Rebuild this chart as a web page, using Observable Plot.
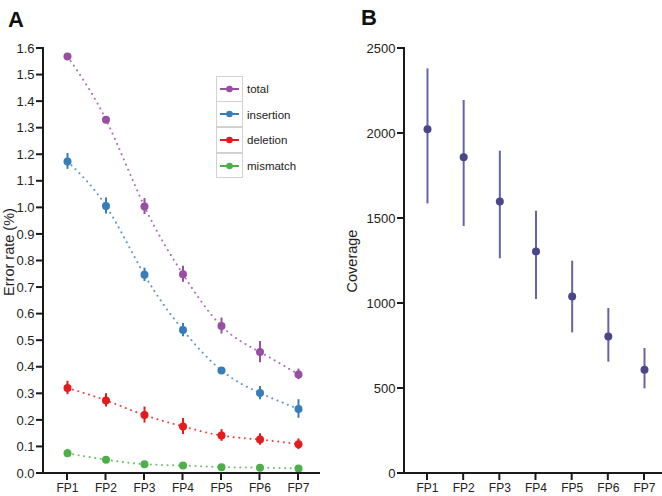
<!DOCTYPE html>
<html>
<head>
<meta charset="utf-8">
<script src="https://cdn.jsdelivr.net/npm/d3@7"></script>
<script src="https://cdn.jsdelivr.net/npm/@observablehq/plot@0.6"></script>
<style>
  html, body { margin: 0; padding: 0; background: #fff; }
  #wrap { position: relative; width: 662px; height: 496px; overflow: hidden; background: #fff; font-family: "Liberation Sans", Arial, sans-serif; color: #222; }
  .panel { position: absolute; top: 0; }
  .panel svg { overflow: visible; }
  .letter { position: absolute; font-weight: bold; font-size: 22px; font-family: "Liberation Sans", Arial, sans-serif; color: #111; }
  .ylab { position: absolute; font-size: 14.5px; white-space: nowrap; transform: translate(-50%, -50%) rotate(-90deg); color: #222; }
  #legend { position: absolute; left: 216px; top: 76px; }
  .lrow { display: flex; align-items: center; height: 25.75px; }
  .lsw { width: 25px; height: 23.75px; border: 1.5px solid #d2d2d2; box-sizing: content-box; margin-top: -1.5px; }
  .lrow:first-child .lsw { margin-top: 0; }
  .ltxt { font-size: 11.5px; margin-left: 4px; color: #222; }
</style>
</head>
<body>
<div id="wrap">
  <div class="letter" style="left:8px; top:7px;">A</div>
  <div class="letter" style="left:361px; top:5px;">B</div>
  <div class="ylab" style="left:9px; top:252px;">Error rate (%)</div>
  <div class="ylab" style="left:352px; top:261px;">Coverage</div>
  <div class="panel" id="left" style="left:0px;"></div>
  <div class="panel" id="right" style="left:331px;"></div>
  <div id="legend"></div>
</div>
<script>
// ---- data ----
const samples = ["FP1", "FP2", "FP3", "FP4", "FP5", "FP6", "FP7"];
const seriesNames = ["total", "insertion", "deletion", "mismatch"];
const seriesColors = ["#984ea3", "#377eb8", "#e41a1c", "#4daf4a"];

const totalRate = [1.570, 1.332, 1.005, 0.750, 0.555, 0.457, 0.373];
const totalErr  = [0.010, 0.012, 0.030, 0.030, 0.030, 0.040, 0.020];
const insertionRate = [1.175, 1.007, 0.748, 0.540, 0.388, 0.303, 0.243];
const insertionErr  = [0.030, 0.030, 0.025, 0.025, 0.006, 0.025, 0.035];
const deletionRate = [0.322, 0.275, 0.220, 0.177, 0.143, 0.128, 0.110];
const deletionErr  = [0.025, 0.025, 0.030, 0.030, 0.022, 0.022, 0.020];
const mismatchRate = [0.076, 0.052, 0.035, 0.030, 0.024, 0.022, 0.019];
const mismatchErr  = [0.015, 0.006, 0.005, 0.005, 0.004, 0.004, 0.004];

const errorTicks = [0, 0.1, 0.2, 0.3, 0.4, 0.5, 0.6, 0.7, 0.8, 0.9, 1.0, 1.1, 1.2, 1.3, 1.4, 1.5, 1.6];

const coverageMean = [2025, 1861, 1600, 1306, 1041, 806, 610];
const coverageLow  = [1586, 1453, 1263, 1024, 827, 655, 498];
const coverageHigh = [2380, 2194, 1896, 1543, 1249, 971, 735];
const coverageTicks = [0, 500, 1000, 1500, 2000, 2500];

// ---- build tables ----
const rates = [totalRate, insertionRate, deletionRate, mismatchRate];
const errs = [totalErr, insertionErr, deletionErr, mismatchErr];
const errorRows = [];
seriesNames.forEach((s, si) => {
  samples.forEach((fp, i) => {
    errorRows.push({series: s, sample: fp, value: rates[si][i], lo: rates[si][i] - errs[si][i], hi: rates[si][i] + errs[si][i]});
  });
});
const covRows = samples.map((fp, i) => ({sample: fp, mean: coverageMean[i], lo: coverageLow[i], hi: coverageHigh[i]}));

const fontStyle = {fontFamily: "'Liberation Sans', Arial, sans-serif", fontSize: "13px", color: "#222", background: "transparent", overflow: "visible"};

function axes(yTicks, yFormat) {
  return [
    Plot.axisX({tickSize: 0, tickPadding: 10, fontSize: 12, label: null}),
    Plot.axisY({ticks: yTicks, tickFormat: yFormat, tickSize: 0, tickPadding: 9, fontSize: 13, label: null})
  ];
}

// axis line + tick marks, positioned through the plot's own scales
function addAxisLines(svg, o, yTicks) {
  const ns = "http://www.w3.org/2000/svg";
  const x0 = o.marginLeft, x1 = o.width - o.marginRight;
  const y0 = o.marginTop, y1 = o.height - o.marginBottom;
  const sx = svg.scale("x"), sy = svg.scale("y");
  const g = document.createElementNS(ns, "g");
  g.setAttribute("stroke", "#1a1a1a");
  g.setAttribute("stroke-width", "2");
  g.setAttribute("fill", "none");
  const seg = (xa, ya, xb, yb) => {
    const l = document.createElementNS(ns, "line");
    l.setAttribute("x1", xa); l.setAttribute("y1", ya);
    l.setAttribute("x2", xb); l.setAttribute("y2", yb);
    g.appendChild(l);
  };
  seg(x0, y0 - 1, x0, y1 + 1);
  seg(x0 - 1, y1, x1, y1);
  yTicks.forEach(t => { const y = sy.apply(t); seg(x0 - 7, y, x0, y); });
  samples.forEach(s => { const x = sx.apply(s); seg(x, y1, x, y1 + 7); });
  svg.appendChild(g);
}

// ---- Panel A ----
const leftOpts = {width: 331, height: 496, marginLeft: 43, marginRight: 11, marginTop: 48, marginBottom: 23};
const left = Plot.plot({
  ...leftOpts,
  style: fontStyle,
  x: {type: "point", domain: samples, range: [67, 298], padding: 0, round: false, label: null, axis: null},
  y: {domain: [0, 1.6], label: null, axis: null},
  color: {domain: seriesNames, range: seriesColors},
  marks: [
    ...axes(errorTicks, d3.format(".1f")),
    Plot.line(errorRows, {x: "sample", y: "value", z: "series", stroke: "series", curve: "natural", strokeWidth: 2, strokeDasharray: "0.1,5.5", strokeLinecap: "round", strokeOpacity: 0.8}),
    Plot.ruleX(errorRows, {x: "sample", y1: "lo", y2: "hi", stroke: "series", strokeWidth: 2}),
    Plot.dot(errorRows, {x: "sample", y: "value", fill: "series", r: 4})
  ]
});
addAxisLines(left, leftOpts, errorTicks);
document.getElementById("left").appendChild(left);

// ---- Panel B ----
const rightOpts = {width: 331, height: 496, marginLeft: 73, marginRight: 0, marginTop: 48, marginBottom: 23};
const right = Plot.plot({
  ...rightOpts,
  style: fontStyle,
  x: {type: "point", domain: samples, range: [96, 313], padding: 0, round: false, label: null, axis: null},
  y: {domain: [0, 2500], label: null, axis: null},
  marks: [
    ...axes(coverageTicks, d3.format("d")),
    Plot.ruleX(covRows, {x: "sample", y1: "lo", y2: "hi", stroke: "#6763a8", strokeWidth: 2}),
    Plot.dot(covRows, {x: "sample", y: "mean", fill: "#4a4688", r: 4})
  ]
});
addAxisLines(right, rightOpts, coverageTicks);
document.getElementById("right").appendChild(right);

// ---- Legend ----
const legend = d3.select("#legend");
seriesNames.forEach((s, i) => {
  const row = legend.append("div").attr("class", "lrow");
  const sw = row.append("div").attr("class", "lsw").append("svg").attr("width", 25).attr("height", 23.75);
  sw.append("line").attr("x1", 3).attr("x2", 22).attr("y1", 12).attr("y2", 12).attr("stroke", seriesColors[i]).attr("stroke-width", 2);
  sw.append("circle").attr("cx", 12.5).attr("cy", 12).attr("r", 3.3).attr("fill", seriesColors[i]);
  row.append("div").attr("class", "ltxt").text(s);
});
</script>
</body>
</html>
